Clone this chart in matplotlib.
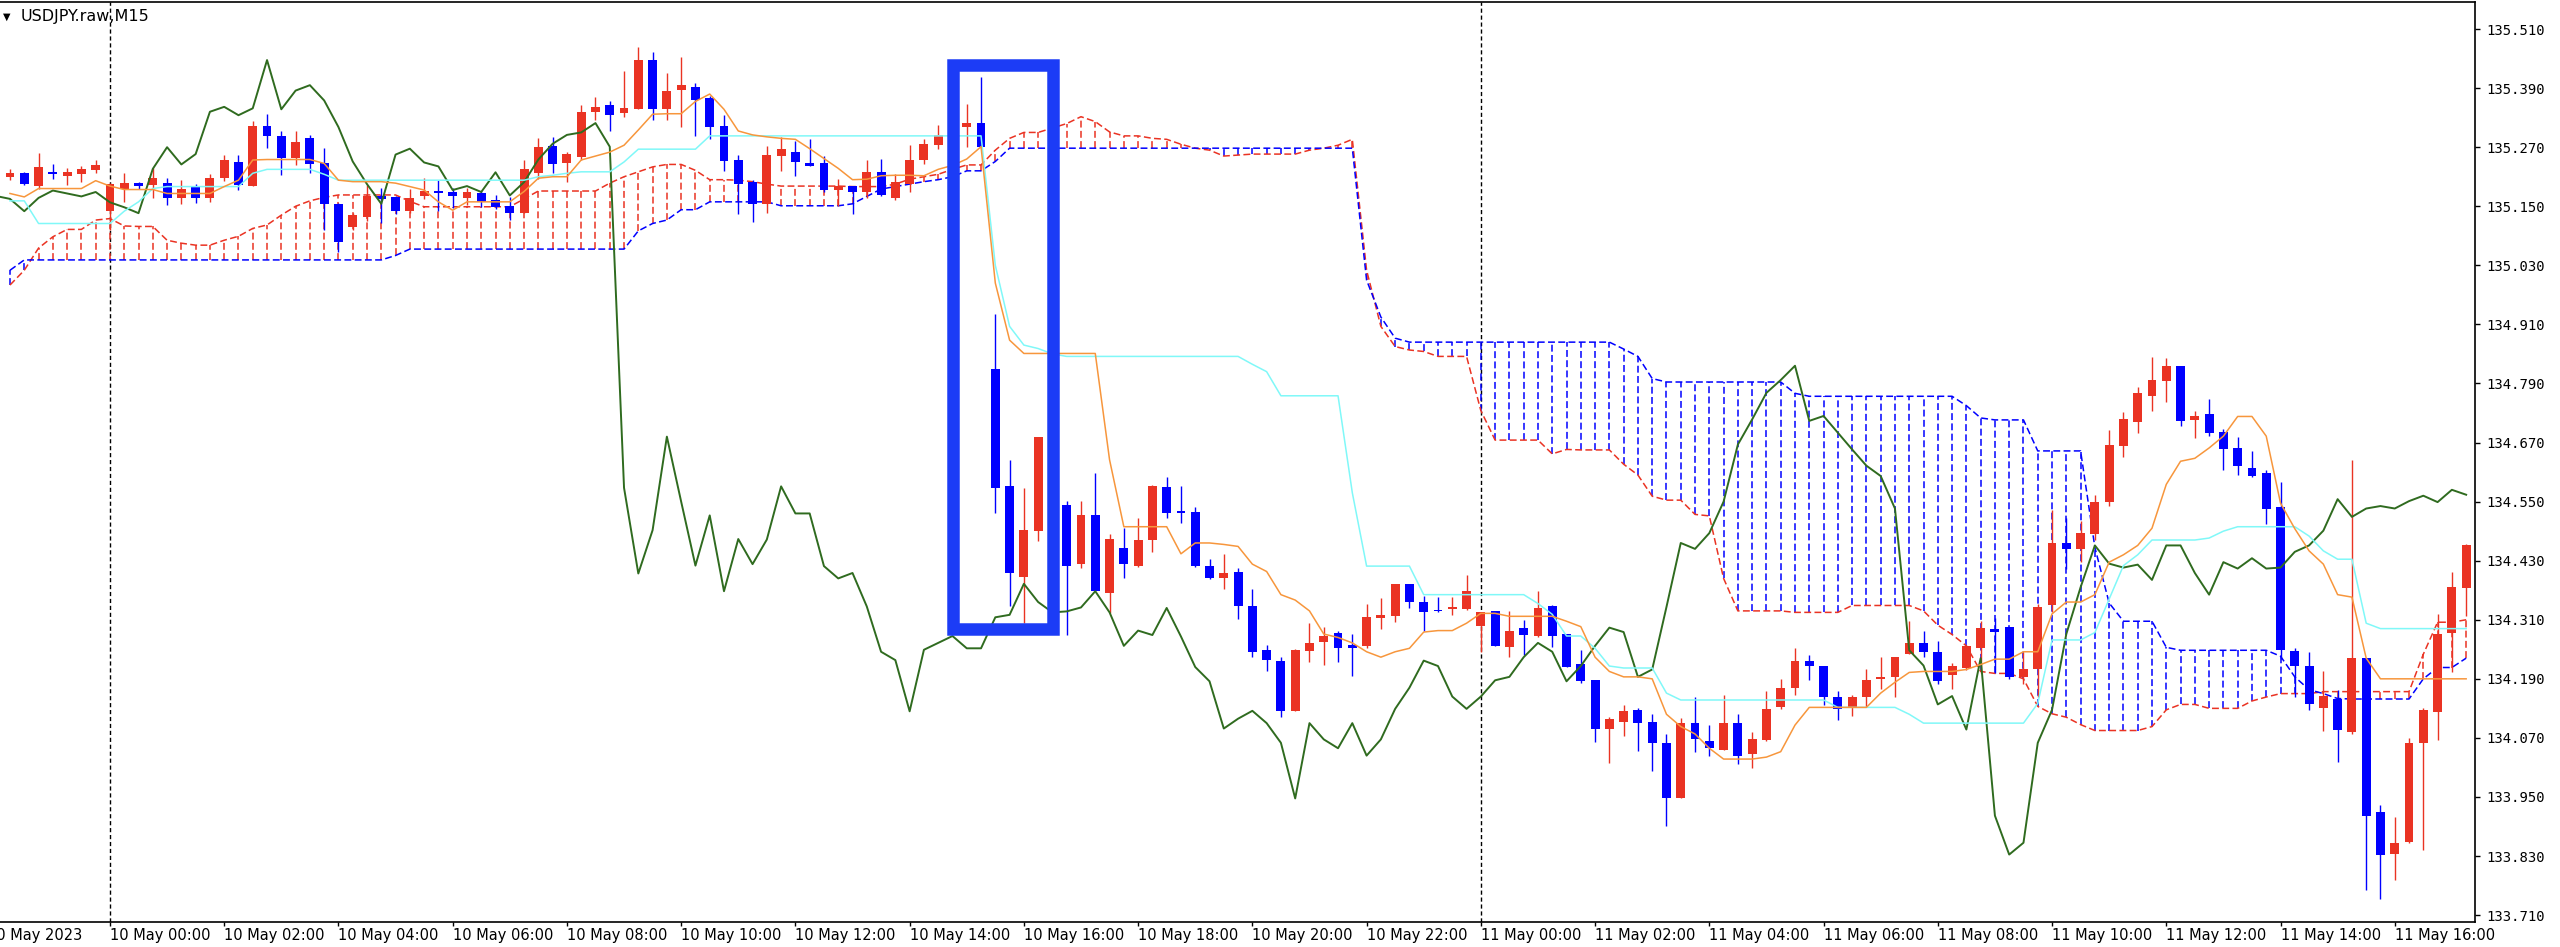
import numpy as np
import matplotlib.pyplot as plt
from matplotlib.patches import Rectangle

# USDJPY M15, bar 0 = 10 May 00:00, one bar every 15 minutes
bars = np.arange(-7, 166)

open_ = [
    135.209, 135.218, 135.192, 135.219, 135.212, 135.216, 135.224, 135.140, 135.185, 135.198,
    135.193, 135.197, 135.166, 135.190, 135.166, 135.208, 135.239, 135.191, 135.313, 135.292,
    135.248, 135.288, 135.237, 135.155, 135.107, 135.128, 135.171, 135.168, 135.140, 135.170,
    135.181, 135.180, 135.166, 135.176, 135.163, 135.151, 135.136, 135.217, 135.273, 135.238,
    135.251, 135.342, 135.356, 135.339, 135.347, 135.447, 135.347, 135.386, 135.393, 135.369,
    135.313, 135.245, 135.199, 135.155, 135.253, 135.261, 135.237, 135.237, 135.183, 135.192,
    135.179, 135.219, 135.167, 135.195, 135.243, 135.274, 135.292, 135.311, 135.319, 134.819,
    134.581, 134.396, 134.490, 134.680, 134.544, 134.424, 134.522, 134.364, 134.455, 134.419,
    134.472, 134.579, 134.530, 134.528, 134.419, 134.395, 134.408, 134.337, 134.249, 134.227,
    134.124, 134.247, 134.264, 134.283, 134.259, 134.257, 134.314, 134.317, 134.383, 134.346,
    134.330, 134.331, 134.332, 134.298, 134.327, 134.254, 134.294, 134.277, 134.337, 134.281,
    134.221, 134.187, 134.089, 134.103, 134.127, 134.103, 134.060, 133.947, 134.100, 134.063,
    134.045, 134.100, 134.038, 134.066, 134.132, 134.172, 134.227, 134.216, 134.154, 134.131,
    134.154, 134.189, 134.194, 134.241, 134.263, 134.245, 134.198, 134.212, 134.252, 134.292,
    134.296, 134.194, 134.209, 134.339, 134.466, 134.453, 134.484, 134.550, 134.664, 134.711,
    134.765, 134.796, 134.826, 134.715, 134.728, 134.692, 134.659, 134.619, 134.608, 134.540,
    134.247, 134.217, 134.130, 134.149, 134.082, 134.232, 133.920, 133.835, 133.859, 134.059,
    134.123, 134.283, 134.375,
]
high = [
    135.225, 135.220, 135.258, 135.236, 135.227, 135.232, 135.244, 135.197, 135.218, 135.200,
    135.228, 135.207, 135.203, 135.195, 135.215, 135.254, 135.254, 135.324, 135.337, 135.302,
    135.302, 135.294, 135.269, 135.156, 135.136, 135.194, 135.187, 135.170, 135.185, 135.207,
    135.203, 135.188, 135.187, 135.182, 135.172, 135.168, 135.244, 135.288, 135.290, 135.261,
    135.356, 135.373, 135.363, 135.425, 135.473, 135.463, 135.421, 135.453, 135.401, 135.375,
    135.335, 135.255, 135.203, 135.273, 135.291, 135.283, 135.287, 135.253, 135.205, 135.192,
    135.243, 135.247, 135.215, 135.275, 135.287, 135.315, 135.310, 135.357, 135.412, 134.931,
    134.634, 134.577, 134.682, 134.700, 134.551, 134.551, 134.609, 134.484, 134.497, 134.517,
    134.584, 134.600, 134.582, 134.539, 134.434, 134.444, 134.415, 134.373, 134.259, 134.234,
    134.251, 134.303, 134.296, 134.288, 134.281, 134.343, 134.354, 134.383, 134.383, 134.359,
    134.356, 134.356, 134.401, 134.325, 134.327, 134.328, 134.310, 134.368, 134.339, 134.281,
    134.249, 134.187, 134.112, 134.136, 134.131, 134.118, 134.078, 134.111, 134.154, 134.096,
    134.158, 134.118, 134.082, 134.165, 134.190, 134.252, 134.238, 134.216, 134.165, 134.158,
    134.209, 134.234, 134.234, 134.307, 134.288, 134.267, 134.223, 134.259, 134.307, 134.314,
    134.296, 134.245, 134.343, 134.532, 134.516, 134.510, 134.564, 134.696, 134.732, 134.783,
    134.844, 134.841, 134.826, 134.735, 134.758, 134.698, 134.681, 134.653, 134.615, 134.589,
    134.253, 134.245, 134.206, 134.168, 134.634, 134.232, 133.933, 133.909, 134.070, 134.130,
    134.322, 134.408, 134.463,
]
low = [
    135.203, 135.193, 135.185, 135.205, 135.193, 135.200, 135.217, 135.102, 135.159, 135.186,
    135.166, 135.153, 135.155, 135.156, 135.159, 135.201, 135.183, 135.191, 135.268, 135.214,
    135.234, 135.217, 135.102, 135.058, 135.102, 135.120, 135.117, 135.135, 135.136, 135.165,
    135.140, 135.147, 135.152, 135.148, 135.144, 135.123, 135.136, 135.205, 135.218, 135.200,
    135.244, 135.325, 135.302, 135.332, 135.347, 135.325, 135.325, 135.311, 135.293, 135.286,
    135.221, 135.135, 135.119, 135.137, 135.221, 135.212, 135.231, 135.179, 135.151, 135.135,
    135.167, 135.171, 135.163, 135.179, 135.235, 135.267, 135.285, 135.271, 135.271, 134.527,
    134.337, 134.304, 134.470, 134.520, 134.280, 134.416, 134.368, 134.324, 134.394, 134.417,
    134.448, 134.517, 134.506, 134.417, 134.392, 134.373, 134.312, 134.235, 134.206, 134.112,
    134.124, 134.225, 134.218, 134.225, 134.196, 134.252, 134.292, 134.305, 134.334, 134.288,
    134.325, 134.320, 134.330, 134.245, 134.257, 134.235, 134.238, 134.274, 134.254, 134.214,
    134.182, 134.061, 134.018, 134.073, 134.044, 134.003, 133.892, 133.947, 134.042, 134.034,
    134.045, 134.016, 134.009, 134.064, 134.129, 134.158, 134.187, 134.136, 134.107, 134.114,
    134.132, 134.169, 134.154, 134.241, 134.234, 134.180, 134.169, 134.208, 134.201, 134.201,
    134.190, 134.180, 134.154, 134.326, 134.414, 134.427, 134.472, 134.541, 134.641, 134.690,
    134.734, 134.752, 134.704, 134.679, 134.684, 134.614, 134.604, 134.600, 134.504, 134.230,
    134.153, 134.127, 134.083, 134.021, 134.078, 133.760, 133.742, 133.781, 133.856, 133.842,
    134.065, 134.203, 134.318,
]
close = [
    135.218, 135.195, 135.229, 135.216, 135.219, 135.226, 135.234, 135.196, 135.197, 135.191,
    135.207, 135.166, 135.185, 135.166, 135.207, 135.244, 135.193, 135.313, 135.293, 135.248,
    135.280, 135.236, 135.155, 135.078, 135.132, 135.171, 135.165, 135.140, 135.167, 135.182,
    135.176, 135.170, 135.179, 135.158, 135.148, 135.136, 135.226, 135.270, 135.235, 135.256,
    135.342, 135.352, 135.335, 135.349, 135.447, 135.347, 135.385, 135.396, 135.365, 135.311,
    135.241, 135.195, 135.155, 135.255, 135.267, 135.239, 135.231, 135.183, 135.191, 135.179,
    135.219, 135.172, 135.199, 135.245, 135.277, 135.295, 135.300, 135.319, 135.271, 134.578,
    134.404, 134.492, 134.682, 134.550, 134.420, 134.522, 134.368, 134.474, 134.423, 134.473,
    134.581, 134.526, 134.526, 134.419, 134.394, 134.405, 134.337, 134.245, 134.228, 134.124,
    134.249, 134.263, 134.277, 134.252, 134.252, 134.315, 134.320, 134.383, 134.346, 134.325,
    134.327, 134.335, 134.368, 134.325, 134.257, 134.288, 134.279, 134.334, 134.276, 134.214,
    134.185, 134.089, 134.109, 134.125, 134.100, 134.060, 133.947, 134.100, 134.067, 134.049,
    134.100, 134.034, 134.067, 134.129, 134.172, 134.227, 134.216, 134.154, 134.129, 134.154,
    134.187, 134.194, 134.234, 134.263, 134.245, 134.185, 134.216, 134.257, 134.294, 134.285,
    134.194, 134.209, 134.336, 134.466, 134.454, 134.486, 134.550, 134.666, 134.717, 134.771,
    134.797, 134.826, 134.714, 134.724, 134.690, 134.656, 134.623, 134.602, 134.536, 134.248,
    134.217, 134.138, 134.155, 134.087, 134.232, 133.912, 133.833, 133.857, 134.060, 134.127,
    134.281, 134.376, 134.461,
]
# closes of bars 166..191 (off screen, only seen through the lagging span)
later_close = [
    134.424, 134.416, 134.422, 134.391, 134.461, 134.461, 134.405, 134.361, 134.427, 134.414,
    134.435, 134.414, 134.416, 134.448, 134.461, 134.491, 134.555, 134.519, 134.536, 134.541,
    134.536, 134.551, 134.562, 134.549, 134.574, 134.564,
]

tenkan = [
    135.176, 135.169, 135.186, 135.186, 135.186, 135.186, 135.202, 135.191, 135.184, 135.184,
    135.184, 135.176, 135.176, 135.176, 135.176, 135.190, 135.203, 135.244, 135.245, 135.245,
    135.245, 135.245, 135.237, 135.203, 135.200, 135.200, 135.200, 135.197, 135.190, 135.183,
    135.159, 135.142, 135.159, 135.159, 135.159, 135.159, 135.180, 135.207, 135.210, 135.210,
    135.244, 135.252, 135.260, 135.274, 135.305, 135.337, 135.338, 135.338, 135.363, 135.378,
    135.347, 135.303, 135.295, 135.291, 135.288, 135.286, 135.267, 135.247, 135.227, 135.204,
    135.205, 135.212, 135.213, 135.213, 135.212, 135.225, 135.233, 135.246, 135.271, 134.994,
    134.878, 134.851, 134.851, 134.851, 134.851, 134.851, 134.851, 134.635, 134.499, 134.499,
    134.499, 134.499, 134.444, 134.466, 134.466, 134.463, 134.459, 134.423, 134.408, 134.361,
    134.350, 134.328, 134.281, 134.274, 134.263, 134.245, 134.234, 134.245, 134.252, 134.285,
    134.288, 134.288, 134.303, 134.323, 134.323, 134.317, 134.317, 134.317, 134.317, 134.307,
    134.296, 134.234, 134.205, 134.194, 134.194, 134.190, 134.118, 134.093, 134.078, 134.049,
    134.027, 134.027, 134.027, 134.031, 134.042, 134.096, 134.132, 134.132, 134.132, 134.132,
    134.132, 134.161, 134.183, 134.203, 134.205, 134.205, 134.205, 134.209, 134.219, 134.230,
    134.230, 134.245, 134.245, 134.322, 134.346, 134.346, 134.361, 134.427, 134.442, 134.461,
    134.496, 134.585, 134.632, 134.638, 134.659, 134.683, 134.723, 134.723, 134.683, 134.547,
    134.495, 134.450, 134.423, 134.361, 134.356, 134.232, 134.190, 134.190, 134.190, 134.190,
    134.190, 134.190, 134.190,
]
kijun = [
    135.161, 135.161, 135.115, 135.115, 135.115, 135.115, 135.115, 135.115, 135.140, 135.159,
    135.186, 135.190, 135.190, 135.190, 135.190, 135.190, 135.190, 135.217, 135.225, 135.225,
    135.225, 135.225, 135.215, 135.203, 135.203, 135.203, 135.203, 135.203, 135.203, 135.203,
    135.203, 135.203, 135.203, 135.203, 135.203, 135.203, 135.203, 135.210, 135.213, 135.217,
    135.220, 135.220, 135.220, 135.240, 135.266, 135.266, 135.266, 135.266, 135.266, 135.293,
    135.293, 135.293, 135.293, 135.293, 135.293, 135.293, 135.293, 135.293, 135.293, 135.293,
    135.293, 135.293, 135.293, 135.293, 135.293, 135.293, 135.293, 135.293, 135.293, 135.030,
    134.906, 134.868, 134.861, 134.850, 134.845, 134.845, 134.845, 134.845, 134.845, 134.845,
    134.845, 134.845, 134.845, 134.845, 134.845, 134.845, 134.845, 134.829, 134.814, 134.765,
    134.765, 134.765, 134.765, 134.765, 134.568, 134.419, 134.419, 134.419, 134.419, 134.361,
    134.361, 134.361, 134.361, 134.361, 134.361, 134.361, 134.361, 134.343, 134.321, 134.277,
    134.277, 134.252, 134.216, 134.212, 134.212, 134.212, 134.161, 134.147, 134.147, 134.147,
    134.147, 134.147, 134.147, 134.147, 134.147, 134.147, 134.147, 134.147, 134.132, 134.132,
    134.132, 134.132, 134.132, 134.118, 134.100, 134.100, 134.100, 134.100, 134.100, 134.100,
    134.100, 134.100, 134.140, 134.269, 134.269, 134.269, 134.284, 134.352, 134.420, 134.442,
    134.472, 134.472, 134.472, 134.472, 134.476, 134.490, 134.499, 134.499, 134.499, 134.499,
    134.499, 134.480, 134.450, 134.433, 134.433, 134.303, 134.292, 134.292, 134.292, 134.292,
    134.292, 134.292, 134.292,
]
span_a = [
    134.990, 135.020, 135.065, 135.088, 135.103, 135.103, 135.122, 135.125, 135.110, 135.109,
    135.109, 135.081, 135.075, 135.071, 135.071, 135.081, 135.089, 135.105, 135.112, 135.132,
    135.150, 135.161, 135.168, 135.173, 135.173, 135.173, 135.173, 135.173, 135.160, 135.149,
    135.149, 135.149, 135.149, 135.149, 135.149, 135.149, 135.165, 135.181, 135.181, 135.181,
    135.181, 135.181, 135.197, 135.210, 135.220, 135.230, 135.235, 135.235, 135.223, 135.204,
    135.204, 135.203, 135.200, 135.195, 135.191, 135.191, 135.191, 135.191, 135.191, 135.190,
    135.190, 135.190, 135.195, 135.205, 135.210, 135.215, 135.225, 135.234, 135.234, 135.264,
    135.288, 135.300, 135.300, 135.309, 135.318, 135.332, 135.322, 135.301, 135.293, 135.293,
    135.288, 135.286, 135.276, 135.268, 135.264, 135.252, 135.254, 135.256, 135.256, 135.256,
    135.256, 135.264, 135.268, 135.274, 135.286, 135.020, 134.906, 134.865, 134.858, 134.855,
    134.845, 134.845, 134.845, 134.735, 134.675, 134.675, 134.675, 134.675, 134.647, 134.656,
    134.655, 134.655, 134.655, 134.626, 134.604, 134.561, 134.553, 134.553, 134.524, 134.521,
    134.394, 134.328, 134.328, 134.328, 134.328, 134.325, 134.325, 134.325, 134.325, 134.339,
    134.339, 134.339, 134.339, 134.339, 134.328, 134.299, 134.280, 134.257, 134.205, 134.201,
    134.201, 134.190, 134.134, 134.119, 134.112, 134.097, 134.085, 134.085, 134.085, 134.085,
    134.093, 134.127, 134.138, 134.138, 134.130, 134.130, 134.130, 134.145, 134.153, 134.160,
    134.160, 134.160, 134.164, 134.164, 134.164, 134.164, 134.164, 134.164, 134.164, 134.240,
    134.305, 134.305, 134.310,
]
span_b = [
    135.020, 135.041, 135.041, 135.041, 135.041, 135.041, 135.041, 135.041, 135.041, 135.041,
    135.041, 135.041, 135.041, 135.041, 135.041, 135.041, 135.041, 135.041, 135.041, 135.041,
    135.041, 135.041, 135.041, 135.041, 135.041, 135.041, 135.041, 135.050, 135.063, 135.063,
    135.063, 135.063, 135.063, 135.063, 135.063, 135.063, 135.063, 135.063, 135.063, 135.063,
    135.063, 135.063, 135.063, 135.063, 135.100, 135.115, 135.122, 135.143, 135.143, 135.159,
    135.159, 135.159, 135.159, 135.159, 135.151, 135.151, 135.151, 135.151, 135.151, 135.155,
    135.170, 135.185, 135.190, 135.195, 135.200, 135.204, 135.210, 135.222, 135.222, 135.241,
    135.268, 135.268, 135.268, 135.268, 135.268, 135.268, 135.268, 135.268, 135.268, 135.268,
    135.268, 135.268, 135.268, 135.268, 135.268, 135.268, 135.268, 135.268, 135.268, 135.268,
    135.268, 135.268, 135.268, 135.268, 135.268, 135.000, 134.925, 134.882, 134.874, 134.874,
    134.874, 134.874, 134.874, 134.874, 134.874, 134.874, 134.874, 134.874, 134.874, 134.874,
    134.874, 134.874, 134.874, 134.860, 134.845, 134.800, 134.793, 134.793, 134.793, 134.793,
    134.793, 134.793, 134.793, 134.793, 134.793, 134.770, 134.764, 134.764, 134.764, 134.764,
    134.764, 134.764, 134.764, 134.764, 134.764, 134.764, 134.764, 134.745, 134.720, 134.716,
    134.716, 134.716, 134.653, 134.653, 134.653, 134.653, 134.457, 134.344, 134.307, 134.307,
    134.307, 134.254, 134.248, 134.248, 134.248, 134.248, 134.248, 134.248, 134.248, 134.236,
    134.194, 134.168, 134.160, 134.150, 134.149, 134.149, 134.149, 134.149, 134.149, 134.190,
    134.213, 134.213, 134.232,
]

tick_bars = [0, 8, 16, 24, 32, 40, 48, 56, 64, 72, 80, 88, 96, 104, 112, 120, 128, 136, 144, 152, 160]
tick_labels = [
    '10 May 00:00', '10 May 02:00', '10 May 04:00', '10 May 06:00', '10 May 08:00',
    '10 May 10:00', '10 May 12:00', '10 May 14:00', '10 May 16:00', '10 May 18:00',
    '10 May 20:00', '10 May 22:00', '11 May 00:00', '11 May 02:00', '11 May 04:00',
    '11 May 06:00', '11 May 08:00', '11 May 10:00', '11 May 12:00', '11 May 14:00',
    '11 May 16:00',
]
price_ticks = [133.710, 133.830, 133.950, 134.070, 134.190, 134.310, 134.430, 134.550,
               134.670, 134.790, 134.910, 135.030, 135.150, 135.270, 135.390, 135.510]

RED = '#ea3323'
BLUE = '#0000ff'
ORANGE = '#f7963c'
CYAN = '#80f8f8'
GREEN = '#2f6b1f'
BOX = '#1c3cf6'
DOT = (0, (4.5, 2.2))

fig = plt.figure(figsize=(25.6, 9.47), dpi=100)
ax = fig.add_axes([0.0, 0.0264, 0.9668, 0.9715])

o = np.array(open_)
h = np.array(high)
l = np.array(low)
c = np.array(close)
a = np.array(span_a)
b = np.array(span_b)

# day separators
for d in (0, 96):
    ax.axvline(d, color='black', lw=1.0, ls=(0, (3.0, 2.0)), zorder=0.5)

# cloud: dotted hatch between the two spans
hatch = np.where(a >= b, RED, BLUE)
ax.vlines(bars, np.minimum(a, b), np.maximum(a, b), colors=hatch, lw=1.1, linestyles=DOT, zorder=1)
ax.plot(bars, a, color=RED, lw=1.1, ls=DOT, zorder=2)
ax.plot(bars, b, color=BLUE, lw=1.1, ls=DOT, zorder=2)

# candles
col = np.where(c >= o, RED, BLUE)
body = np.abs(c - o)
bh = np.maximum(body, 0.0025)
ax.vlines(bars, l, h, colors=col, lw=1.0, zorder=3)
ax.bar(bars, bh, bottom=np.minimum(o, c) - (bh - body) / 2, width=0.62, color=col, lw=0, zorder=3)

# ichimoku lines
all_close = np.concatenate([c, later_close])
ax.plot(np.arange(-7, 192) - 26, all_close, color=GREEN, lw=1.4, zorder=4)
ax.plot(bars, kijun, color=CYAN, lw=1.1, zorder=4)
ax.plot(bars, tenkan, color=ORANGE, lw=1.1, zorder=4)

# highlight box
ax.add_patch(Rectangle((59.03, 134.291), 7.01, 1.146, fill=False, edgecolor=BOX,
                       lw=9, joinstyle='miter', zorder=5))

ax.set_xlim(-7.70, 165.62)
ax.set_ylim(133.696, 135.565)
ax.spines['left'].set_visible(False)
for s in ('top', 'right', 'bottom'):
    ax.spines[s].set_linewidth(1.2)

ax.yaxis.tick_right()
ax.set_yticks(price_ticks)
ax.set_yticklabels([f'{p:.3f}' for p in price_ticks], fontfamily='DejaVu Sans Mono', fontsize=10)
ax.tick_params(axis='y', direction='out', length=3.6, width=1.0, pad=4.3)
ax.set_xticks(tick_bars)
ax.set_xticklabels(tick_labels, fontsize=10.5, ha='left')
ax.tick_params(axis='x', direction='out', length=2.9, width=1.0, pad=1.5)
ax.annotate('10 May 2023', xy=(-8.6, 0), xycoords=ax.get_xaxis_transform(),
            xytext=(0, -4.4), textcoords='offset points', ha='left', va='top',
            fontsize=10.5, annotation_clip=False)

fig.text(3 / 2560, 1 - 17 / 947, '\u25bc', fontsize=7, va='center')
fig.text(21 / 2560, 1 - 17 / 947, 'USDJPY.raw,M15', fontsize=11.5, va='center')

fig.savefig('out.png', dpi=100, facecolor='white')
